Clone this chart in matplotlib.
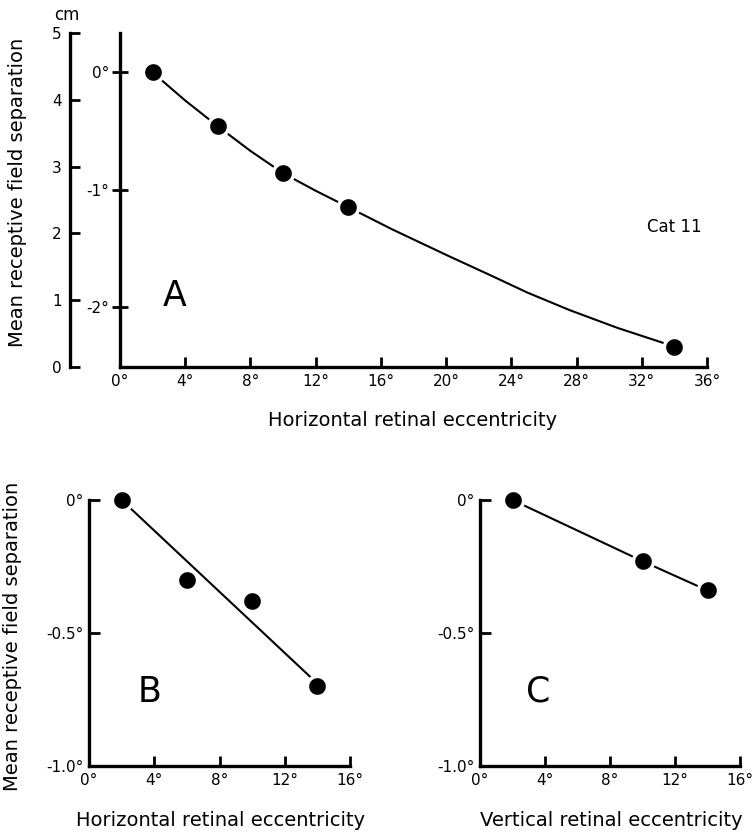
import numpy as np
import matplotlib.pyplot as plt
from matplotlib.ticker import FixedLocator

# Panel A: horizontal eccentricity vs separation (degrees)
a_ecc = [2, 6, 10, 14, 34]
a_sep = [0.0, -0.46, -0.86, -1.15, -2.34]
# smooth fitted curve
a_curve_x = [2, 4, 6, 8, 10, 12, 14, 16.7, 20.2, 22.7, 25.0, 27.6, 30.5, 34]
a_curve_y = [0.0, -0.24, -0.46, -0.67, -0.86, -1.01, -1.15, -1.34, -1.57, -1.73, -1.88, -2.03, -2.18, -2.34]

# Panel B: horizontal eccentricity
b_ecc = [2, 6, 10, 14]
b_sep = [0.0, -0.30, -0.38, -0.70]
b_fit_x = [2, 14]
b_fit_y = [0.0, -0.69]

# Panel C: vertical eccentricity
c_ecc = [2, 10, 14]
c_sep = [0.0, -0.23, -0.34]

# cm scale on panel A
cm_at_zero_deg = 4.41
cm_per_deg = 1.754

W, H = 753, 834
fig = plt.figure(figsize=(W / 100, H / 100), dpi=100)
plt.rcParams['font.family'] = 'DejaVu Sans'

def box(l, t, r, b):
    return [l / W, 1 - b / H, (r - l) / W, (b - t) / H]

def dot_plot(ax, x, y):
    ax.plot(x, y, 'o', color='black', ms=14.5, mec='white', mew=2.5, clip_on=False, zorder=3)

def style_x(ax, xmax, step):
    ax.set_xlim(0, xmax)
    ticks = np.arange(0, xmax + 1, step)
    ax.xaxis.set_major_locator(FixedLocator(ticks))
    ax.set_xticklabels(['%d°' % t for t in ticks])
    ax.tick_params(axis='x', direction='in', length=7, width=2, labelsize=11, pad=5)
    for s in ['top', 'right']:
        ax.spines[s].set_visible(False)
    ax.spines['bottom'].set_linewidth(2.4)
    ax.spines['left'].set_linewidth(2.4)

# ---- Panel A
axA = fig.add_axes(box(120, 33, 707, 367))
axA.plot(a_curve_x, a_curve_y, color='black', lw=1.5, zorder=2)
dot_plot(axA, a_ecc, a_sep)
style_x(axA, 36, 4)
to_deg = lambda c: (c - cm_at_zero_deg) / cm_per_deg
to_cm = lambda d: cm_at_zero_deg + d * cm_per_deg
axA.set_ylim(to_deg(0), to_deg(5))
axA.yaxis.set_major_locator(FixedLocator([0, -1, -2]))
axA.set_yticklabels(['0°', '-1°', '-2°'])
axA.tick_params(axis='y', direction='inout', length=12, width=2, labelsize=11, pad=2)
sec = axA.secondary_yaxis(-50 / 587, functions=(to_cm, to_deg))
sec.set_yticks([0, 1, 2, 3, 4, 5])
sec.tick_params(axis='y', direction='in', length=7, width=2, labelsize=11, pad=6)
sec.spines['left'].set_linewidth(2.4)
axA.text(2.6, -1.99, 'A', fontsize=25)
axA.text(34.0, -1.32, 'Cat 11', fontsize=12, ha='center', va='center')
fig.text(67 / W, 1 - 15 / H, 'cm', fontsize=12, ha='center', va='center')
fig.text(18 / W, 1 - 192 / H, 'Mean receptive field separation', rotation=90,
         fontsize=14, ha='center', va='center')
fig.text(413 / W, 1 - 421 / H, 'Horizontal retinal eccentricity', fontsize=14,
         ha='center', va='center')

# ---- Panel B
axB = fig.add_axes(box(89, 500, 350, 766))
axB.plot(b_fit_x, b_fit_y, color='black', lw=1.5, zorder=2)
dot_plot(axB, b_ecc, b_sep)
style_x(axB, 16, 4)
axB.set_ylim(-1.0, 0)
axB.yaxis.set_major_locator(FixedLocator([0, -0.5, -1.0]))
axB.set_yticklabels(['0°', '-0.5°', '-1.0°'])
axB.tick_params(axis='y', direction='in', length=8, width=2, labelsize=11, pad=4)
axB.text(3.0, -0.72, 'B', fontsize=25, va='center')
fig.text(221 / W, 1 - 820 / H, 'Horizontal retinal eccentricity', fontsize=14,
         ha='center', va='center')
fig.text(13 / W, 1 - 636 / H, 'Mean receptive field separation', rotation=90,
         fontsize=14, ha='center', va='center')

# ---- Panel C
axC = fig.add_axes(box(480, 500, 740, 766))
axC.plot(c_ecc, c_sep, color='black', lw=1.5, zorder=2)
dot_plot(axC, c_ecc, c_sep)
style_x(axC, 16, 4)
axC.set_ylim(-1.0, 0)
axC.yaxis.set_major_locator(FixedLocator([0, -0.5, -1.0]))
axC.set_yticklabels(['0°', '-0.5°', '-1.0°'])
axC.tick_params(axis='y', direction='in', length=8, width=2, labelsize=11, pad=4)
axC.text(2.8, -0.72, 'C', fontsize=25, va='center')
fig.text(611 / W, 1 - 820 / H, 'Vertical retinal eccentricity', fontsize=14,
         ha='center', va='center')

fig.savefig('out.png', dpi=100)
